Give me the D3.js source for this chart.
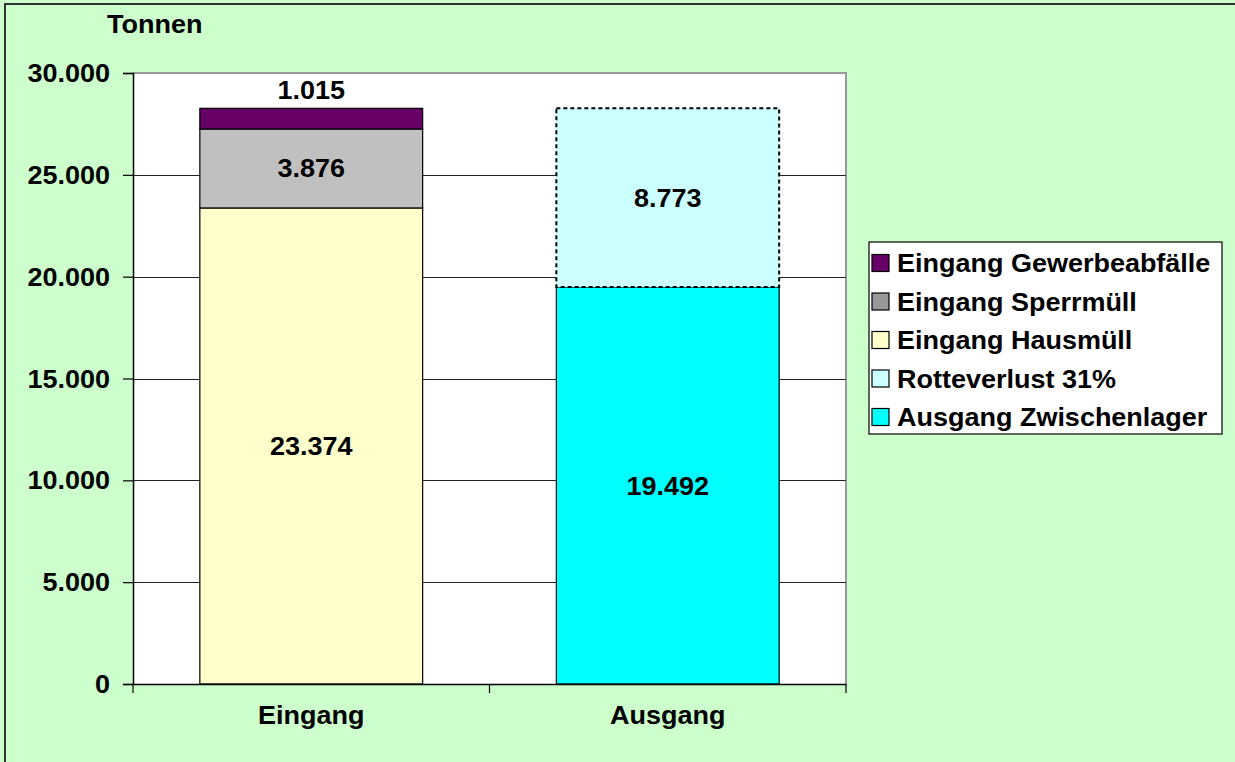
<!DOCTYPE html>
<html>
<head>
<meta charset="utf-8">
<script src="https://cdn.jsdelivr.net/npm/d3@7"></script>
<style>
  body { margin: 0; background: #ccffcc; }
  svg text { font-family: "Liberation Sans", Arial, sans-serif; font-weight: bold; fill: #000; }
</style>
</head>
<body>
<div id="chart"></div>
<script>
// data
const categories = ["Eingang", "Ausgang"];
const hausmuell = [23374, 0];
const sperrmuell = [3876, 0];
const gewerbe = [1015, 0];
const zwischenlager = [0, 19492];
const rotteverlust = [0, 8773];
const seriesKeys = ["Eingang Hausmüll", "Eingang Sperrmüll", "Eingang Gewerbeabfälle", "Ausgang Zwischenlager", "Rotteverlust 31%"];
const legendOrder = ["Eingang Gewerbeabfälle", "Eingang Sperrmüll", "Eingang Hausmüll", "Rotteverlust 31%", "Ausgang Zwischenlager"];
const yTicks = [0, 5000, 10000, 15000, 20000, 25000, 30000];
const yLabel = "Tonnen";

const width = 1235, height = 762;
const plot = { left: 133, right: 846, top: 73, bottom: 684 };
const fontSize = 25;
const sx = 1.08; // text looks a bit stretched in the original

const fills = {
  "Eingang Hausmüll": "#ffffcc",
  "Eingang Sperrmüll": "#c0c0c0",
  "Eingang Gewerbeabfälle": "#660066",
  "Ausgang Zwischenlager": "#00ffff",
  "Rotteverlust 31%": "#ccffff"
};
const legendFills = Object.assign({}, fills, { "Eingang Sperrmüll": "#999999" });

const rows = categories.map((c, i) => ({
  category: c,
  "Eingang Hausmüll": hausmuell[i],
  "Eingang Sperrmüll": sperrmuell[i],
  "Eingang Gewerbeabfälle": gewerbe[i],
  "Ausgang Zwischenlager": zwischenlager[i],
  "Rotteverlust 31%": rotteverlust[i]
}));

const de = d3.formatLocale({ decimal: ",", thousands: ".", grouping: [3], currency: ["", " €"] });
const fmt = de.format(",d");

const svg = d3.select("#chart").append("svg")
  .attr("width", width)
  .attr("height", height);

// chart frame
svg.append("rect")
  .attr("x", 5).attr("y", 4)
  .attr("width", width + 10).attr("height", height + 10)
  .attr("fill", "#ccffcc")
  .attr("stroke", "#333").attr("stroke-width", 2);

const x = d3.scaleBand()
  .domain(categories)
  .range([plot.left, plot.right])
  .paddingInner(0.375)
  .paddingOuter(0.1875);

const y = d3.scaleLinear()
  .domain([0, 30000])
  .range([plot.bottom, plot.top]);

// text with horizontal stretch
function label(parent, tx, ty, str, anchor) {
  return parent.append("text")
    .attr("transform", `translate(${tx},${ty}) scale(${sx},1)`)
    .attr("text-anchor", anchor || "middle")
    .style("font-size", fontSize + "px")
    .text(str);
}

// plot area
svg.append("rect")
  .attr("x", plot.left).attr("y", plot.top)
  .attr("width", plot.right - plot.left)
  .attr("height", plot.bottom - plot.top)
  .attr("fill", "#fff");
svg.append("path")
  .attr("d", `M${plot.left},${plot.top}H${plot.right}V${plot.bottom}`)
  .attr("fill", "none")
  .attr("stroke", "#999").attr("stroke-width", 2);

// gridlines
svg.append("g")
  .selectAll("line")
  .data(yTicks.filter(t => t > 0 && t < 30000))
  .join("line")
  .attr("x1", plot.left).attr("x2", plot.right)
  .attr("y1", d => Math.round(y(d)) + 0.5).attr("y2", d => Math.round(y(d)) + 0.5)
  .attr("stroke", "#222").attr("stroke-width", 1);

// bars
const stack = d3.stack().keys(seriesKeys);
const layers = stack(rows);

const barG = svg.append("g");
layers.forEach(layer => {
  const key = layer.key;
  const dashed = key === "Rotteverlust 31%";
  barG.selectAll(null)
    .data(layer.filter(d => d[1] - d[0] > 0))
    .join("rect")
    .attr("x", d => x(d.data.category))
    .attr("width", x.bandwidth())
    .attr("y", d => y(d[1]))
    .attr("height", d => y(d[0]) - y(d[1]))
    .attr("fill", fills[key])
    .attr("stroke", "#000")
    .attr("stroke-width", dashed ? 2 : 1.2)
    .attr("stroke-dasharray", dashed ? "4,3" : null);
});

// value labels
layers.forEach(layer => {
  layer.filter(d => d[1] - d[0] > 0).forEach(d => {
    const v = d[1] - d[0];
    const cx = x(d.data.category) + x.bandwidth() / 2;
    const h = y(d[0]) - y(d[1]);
    const cy = h < 30 ? y(d[1]) - 9 : (y(d[0]) + y(d[1])) / 2 + 9;
    label(svg, cx, cy, fmt(v));
  });
});

// y axis
const yAxis = svg.append("g")
  .attr("transform", `translate(${plot.left},0)`)
  .call(d3.axisLeft(y).tickValues(yTicks).tickSize(10).tickFormat(""));
yAxis.select(".domain").attr("stroke", "#000").attr("stroke-width", 1.5);
yAxis.selectAll(".tick line").attr("stroke", "#000").attr("stroke-width", 1.2);
yTicks.forEach(t => label(svg, plot.left - 23, y(t) + 9, fmt(t), "end"));
label(svg, 107, 33, yLabel, "start");

// x axis
const xAxis = svg.append("g")
  .attr("transform", `translate(0,${plot.bottom})`)
  .call(d3.axisBottom(x).tickSize(0).tickFormat(""));
xAxis.select(".domain").attr("stroke", "#000").attr("stroke-width", 1.5);
svg.append("g").selectAll("line")
  .data(d3.range(categories.length + 1))
  .join("line")
  .attr("x1", i => plot.left + i * (plot.right - plot.left) / categories.length)
  .attr("x2", i => plot.left + i * (plot.right - plot.left) / categories.length)
  .attr("y1", plot.bottom).attr("y2", plot.bottom + 9)
  .attr("stroke", "#000").attr("stroke-width", 1.2);
categories.forEach(c => label(svg, x(c) + x.bandwidth() / 2, 724, c));

// legend
const legend = svg.append("g");
legend.append("rect")
  .attr("x", 869).attr("y", 242)
  .attr("width", 353).attr("height", 192)
  .attr("fill", "#fff")
  .attr("stroke", "#000").attr("stroke-width", 1.2);
legendOrder.forEach((key, i) => {
  const cy = 263 + i * 38.5;
  legend.append("rect")
    .attr("x", 872).attr("y", cy - 8.5)
    .attr("width", 17).attr("height", 17)
    .attr("fill", legendFills[key])
    .attr("stroke", "#000").attr("stroke-width", 1.2);
  label(legend, 897, cy + 9, key, "start");
});
</script>
</body>
</html>
